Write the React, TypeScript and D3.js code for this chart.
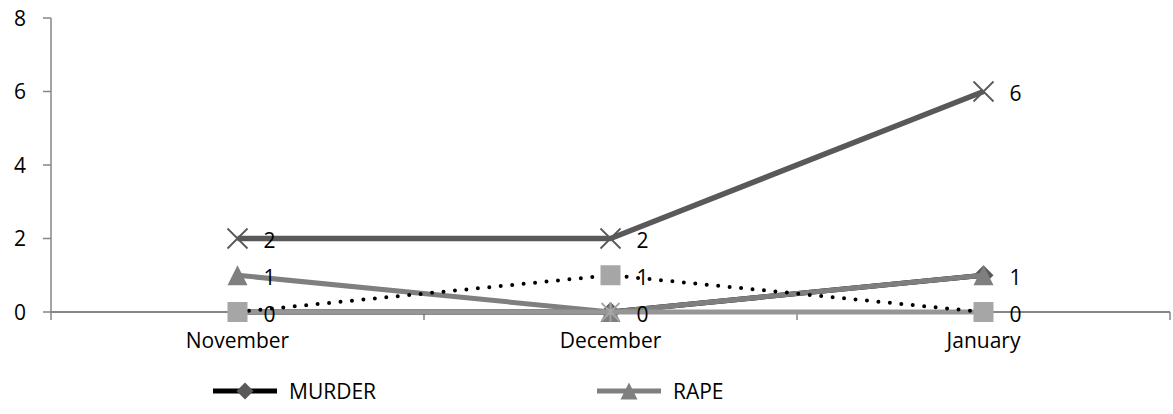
import React, { useEffect } from "react";
import * as d3 from "d3";

const categories = ["November", "December", "January"];
const murder = [0, 0, 1];
const rape = [1, 0, 1];
const seriesStar = [0, 0, 0];
const seriesSquare = [0, 1, 0];
const seriesCross = [2, 2, 6];
const yTicks = [0, 2, 4, 6, 8];

const W = 1173;
const H = 414;
const FONT = "'Open Sans', 'Noto Sans', sans-serif";
const FS = 21;

type Marker = "diamond" | "triangle" | "square" | "cross" | "star";
interface Series {
  name: string;
  values: number[];
  color: string;
  width: number;
  dotted?: boolean;
  marker: Marker;
  markerColor: string;
  legend: boolean;
}

const series: Series[] = [
  { name: "MURDER", values: murder, color: "#000000", width: 5, marker: "diamond", markerColor: "#595959", legend: true },
  { name: "RAPE", values: rape, color: "#7f7f7f", width: 5, marker: "triangle", markerColor: "#7f7f7f", legend: true },
  { name: "OTHER", values: seriesStar, color: "#969696", width: 5, marker: "star", markerColor: "#a6a6a6", legend: false },
  { name: "ROBBERY", values: seriesSquare, color: "#000000", width: 4, dotted: true, marker: "square", markerColor: "#a6a6a6", legend: false },
  { name: "THEFT", values: seriesCross, color: "#595959", width: 5.5, marker: "cross", markerColor: "#595959", legend: false },
];

function MarkerShape({ type, x, y, color, scale = 1 }: { type: Marker; x: number; y: number; color: string; scale?: number }) {
  const s = 10 * scale;
  switch (type) {
    case "diamond":
      return <path d={`M${x},${y - s}L${x + s},${y}L${x},${y + s}L${x - s},${y}Z`} fill={color} />;
    case "triangle":
      return <path d={`M${x},${y - s}L${x + s},${y + s}L${x - s},${y + s}Z`} fill={color} />;
    case "square":
      return <rect x={x - s} y={y - s} width={s * 2} height={s * 2} fill={color} />;
    case "cross":
      return (
        <path d={`M${x - s},${y - s}L${x + s},${y + s}M${x + s},${y - s}L${x - s},${y + s}`} stroke={color} strokeWidth={1.8} fill="none" />
      );
    case "star":
      return (
        <path
          d={`M${x - s * 0.9},${y - s * 0.9}L${x + s * 0.9},${y + s * 0.9}M${x + s * 0.9},${y - s * 0.9}L${x - s * 0.9},${y + s * 0.9}M${x},${y - s}L${x},${y + s}`}
          stroke={color}
          strokeWidth={1.8}
          fill="none"
        />
      );
  }
}

export default function App() {
  useEffect(() => {
    document.body.style.margin = "0";
  }, []);

  const left = 51;
  const right = 1170;
  const top = 18;
  const bottom = 312;

  const x = d3.scaleBand<string>().domain(categories).range([left, right]).padding(0);
  const cx = (c: string) => (x(c) as number) + x.bandwidth() / 2;
  const y = d3.scaleLinear().domain([0, 8]).range([bottom, top]);

  const line = d3
    .line<number>()
    .x((_, i) => cx(categories[i]))
    .y((v) => y(v));

  const boundaries = [...categories.map((c) => x(c) as number), right];

  // unique data labels
  const labelKeys = new Set<string>();
  const labels: { c: string; v: number }[] = [];
  series.forEach((s) =>
    s.values.forEach((v, i) => {
      const k = `${i}-${v}`;
      if (!labelKeys.has(k)) {
        labelKeys.add(k);
        labels.push({ c: categories[i], v });
      }
    })
  );

  const legendItems = series.filter((s) => s.legend);
  const legendX = [213, 597];
  const legendY = 391;

  return (
    <svg width={W} height={H} style={{ display: "block", background: "#fff" }} fontFamily={FONT}>
      {/* y axis */}
      <line x1={left} x2={left} y1={top} y2={bottom} stroke="#868686" strokeWidth={1.5} />
      {yTicks.map((t) => (
        <g key={t}>
          <line x1={left - 8} x2={left} y1={y(t)} y2={y(t)} stroke="#868686" strokeWidth={1.5} />
          <text x={26} y={y(t)} dy="0.36em" textAnchor="end" fontSize={FS} fill="#000">
            {t}
          </text>
        </g>
      ))}
      {/* x axis */}
      <line x1={left} x2={right} y1={bottom} y2={bottom} stroke="#868686" strokeWidth={2} />
      {boundaries.map((b, i) => (
        <line key={i} x1={b} x2={b} y1={bottom} y2={bottom + 8} stroke="#868686" strokeWidth={1.5} />
      ))}
      {categories.map((c) => (
        <text key={c} x={cx(c)} y={bottom + 36} textAnchor="middle" fontSize={FS} fill="#000">
          {c}
        </text>
      ))}

      {/* series */}
      {series.map((s) => (
        <g key={s.name}>
          <path
            d={line(s.values) as string}
            fill="none"
            stroke={s.color}
            strokeWidth={s.width}
            strokeLinecap={s.dotted ? "round" : "butt"}
            strokeDasharray={s.dotted ? "0 11.5" : undefined}
            strokeLinejoin="round"
          />
          {s.values.map((v, i) => (
            <MarkerShape key={i} type={s.marker} x={cx(categories[i])} y={y(v)} color={s.markerColor} />
          ))}
        </g>
      ))}

      {/* data labels */}
      {labels.map((l, i) => (
        <text key={i} x={cx(l.c) + 32} y={y(l.v) + 2} dy="0.36em" textAnchor="middle" fontSize={FS} fill="#000">
          {l.v}
        </text>
      ))}

      {/* legend */}
      {legendItems.map((s, i) => (
        <g key={s.name}>
          <line x1={legendX[i]} x2={legendX[i] + 64} y1={legendY} y2={legendY} stroke={s.color} strokeWidth={s.width} />
          <MarkerShape type={s.marker} x={legendX[i] + 32} y={legendY} color={s.markerColor} scale={0.85} />
          <text x={legendX[i] + 76} y={legendY} dy="0.36em" fontSize={FS} fill="#000">
            {s.name}
          </text>
        </g>
      ))}
    </svg>
  );
}
